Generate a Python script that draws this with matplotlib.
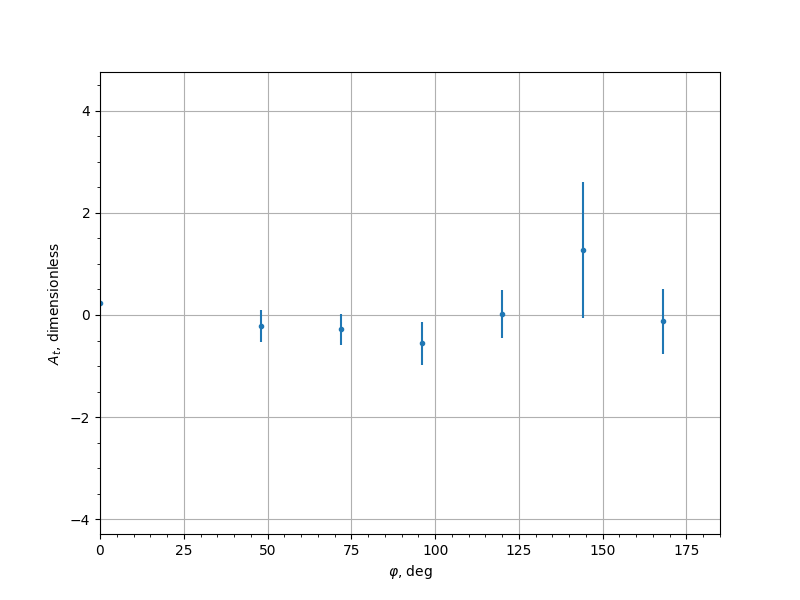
import numpy as np
import matplotlib
matplotlib.use("Agg")
import matplotlib.pyplot as plt

# angles and measured asymmetry with errors
phi = [0, 48, 72, 96, 120, 144, 168]
a_t = [0.235, -0.22, -0.28, -0.555, 0.015, 1.27, -0.125]
a_err = [0.0, 0.31, 0.30, 0.42, 0.475, 1.33, 0.635]

fig, ax = plt.subplots(figsize=(8, 6), dpi=100)
ax.errorbar(phi, a_t, yerr=a_err, fmt='.')
ax.set_xlim(0, 185)
ax.set_ylim(-4.29, 4.76)
ax.minorticks_on()
ax.grid(True, which='major')
ax.set_xlabel(r'$\varphi$, deg')
ax.set_ylabel(r'$A_t$, dimensionless')

fig.savefig('out.png')
